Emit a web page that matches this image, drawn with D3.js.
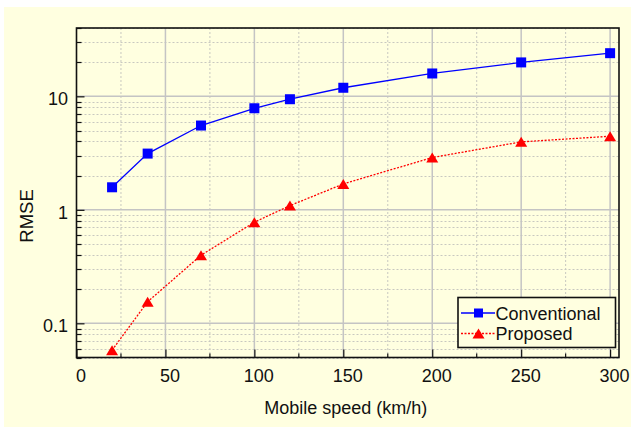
<!DOCTYPE html>
<html>
<head>
<meta charset="utf-8">
<script src="https://cdn.jsdelivr.net/npm/d3@7"></script>
<style>
  html, body { margin: 0; padding: 0; background: #ffffff; }
  svg { display: block; }
  text { font-family: "Liberation Sans", Arial, sans-serif; fill: #111; }
</style>
</head>
<body>
<svg id="chart" width="631" height="427"></svg>
<script>
// Mobile speed (km/h) at which each scheme was evaluated
const speeds = [20, 40, 70, 100, 120, 150, 200, 250, 300];
// RMSE for each scheme
const conventional = [1.58, 3.13, 5.53, 7.85, 9.43, 11.9, 15.9, 19.9, 24.0];
const proposed = [0.058, 0.155, 0.398, 0.778, 1.09, 1.69, 2.89, 3.97, 4.45];
const seriesNames = ["Conventional", "Proposed"];
const xTickValues = [0, 50, 100, 150, 200, 250, 300];
const yTickValues = [0.1, 1, 10];

const svg = d3.select("#chart");
const W = 631, H = 427;
const margin = { left: 76.5, top: 28, right: W - 619, bottom: H - 357.5 };
const pw = W - margin.left - margin.right;
const ph = H - margin.top - margin.bottom;

// panel background
svg.append("rect").attr("x", 4).attr("y", 7).attr("width", W - 4).attr("height", H - 7)
  .attr("fill", "#ffffe0");

const x = d3.scaleLinear().domain([0, 305]).range([0, pw]);
const y = d3.scaleLog().domain([0.05, 40]).range([ph, 0]);

const g = svg.append("g").attr("transform", `translate(${margin.left},${margin.top})`);

// minor grid values
const xMinor = d3.range(25, 305, 50);
const yMinor = [];
[0.01, 0.1, 1, 10].forEach(dec => {
  for (let k = 2; k <= 9; k++) {
    const v = dec * k;
    if (v > 0.05 - 1e-9 && v <= 40 + 1e-9) yMinor.push(v);
  }
});

const grid = g.append("g");
grid.selectAll(".xm").data(xMinor).join("line")
  .attr("x1", d => x(d)).attr("x2", d => x(d)).attr("y1", 0).attr("y2", ph)
  .attr("stroke", "#c8c8c0").attr("stroke-width", 1).attr("stroke-dasharray", "2,2");
grid.selectAll(".ym").data(yMinor).join("line")
  .attr("x1", 0).attr("x2", pw).attr("y1", d => Math.round(y(d)) + 0.5).attr("y2", d => Math.round(y(d)) + 0.5)
  .attr("stroke", "#c8c8c0").attr("stroke-width", 1).attr("stroke-dasharray", "2,2");
grid.selectAll(".xM").data(xTickValues.filter(d => d > 0)).join("line")
  .attr("x1", d => x(d)).attr("x2", d => x(d)).attr("y1", 0).attr("y2", ph)
  .attr("stroke", "#c4c4c4").attr("stroke-width", 1.5);
grid.selectAll(".yM").data(yTickValues).join("line")
  .attr("x1", 0).attr("x2", pw).attr("y1", d => y(d)).attr("y2", d => y(d))
  .attr("stroke", "#c4c4c4").attr("stroke-width", 1.5);

// axes: ticks point into the plot
const xAxis = g.append("g").attr("transform", `translate(0,${ph})`)
  .call(d3.axisBottom(x).tickValues(xTickValues).tickSize(-8).tickPadding(12).tickFormat(d3.format("d")));
xAxis.append("g").selectAll("line").data(xMinor).join("line")
  .attr("x1", d => x(d)).attr("x2", d => x(d)).attr("y1", 0).attr("y2", -4)
  .attr("stroke", "#111").attr("stroke-width", 1.2);

const yAxis = g.append("g")
  .call(d3.axisLeft(y).tickValues(yTickValues).tickSize(-8).tickPadding(8.5).tickFormat(d => d < 1 ? d3.format(".1f")(d) : d3.format("d")(d)));
yAxis.append("g").selectAll("line").data(yMinor).join("line")
  .attr("x1", 0).attr("x2", 5).attr("y1", d => Math.round(y(d)) + 0.5).attr("y2", d => Math.round(y(d)) + 0.5)
  .attr("stroke", "#111").attr("stroke-width", 1.2);

[xAxis, yAxis].forEach(a => {
  a.select(".domain").remove();
  a.selectAll(".tick line").attr("stroke", "#111").attr("stroke-width", 1.2);
  a.selectAll(".tick text").attr("font-size", 18).attr("fill", "#111")
    .attr("font-family", "'Liberation Sans', Arial, sans-serif");
});
xAxis.selectAll(".tick text").attr("dx", 4);
yAxis.selectAll(".tick text").attr("dy", "0.46em");

// frame
g.append("rect").attr("x", 0).attr("y", 0).attr("width", pw).attr("height", ph)
  .attr("fill", "none").attr("stroke", "#111").attr("stroke-width", 1.6);

// series
const conv = speeds.map((s, i) => ({ s, v: conventional[i] }));
const prop = speeds.map((s, i) => ({ s, v: proposed[i] }));
const line = d3.line().x(d => x(d.s)).y(d => y(d.v));

g.append("path").datum(conv).attr("d", line).attr("fill", "none")
  .attr("stroke", "#0000ff").attr("stroke-width", 1.3);
g.append("path").datum(prop).attr("d", line).attr("fill", "none")
  .attr("stroke", "#ff0000").attr("stroke-width", 1.3).attr("stroke-dasharray", "2,1.5");

const sq = 10;
g.selectAll(".sq").data(conv).join("rect")
  .attr("x", d => x(d.s) - sq / 2).attr("y", d => y(d.v) - sq / 2)
  .attr("width", sq).attr("height", sq).attr("fill", "#0000ff");
// upward triangle, 12 wide and 10 tall, centred on its box
const tri = "M0,-5L6,5L-6,5Z";
g.selectAll(".tri").data(prop).join("path")
  .attr("d", tri).attr("transform", d => `translate(${x(d.s)},${y(d.v)})`)
  .attr("fill", "#ff0000");

// axis titles
svg.append("text").attr("x", margin.left + pw / 2 - 2).attr("y", 414)
  .attr("text-anchor", "middle").attr("font-size", 18).text("Mobile speed (km/h)");
svg.append("text").attr("transform", "translate(33,216) rotate(-90)")
  .attr("text-anchor", "middle").attr("font-size", 18.5).text("RMSE");

// legend
const lg = svg.append("g").attr("transform", "translate(458,297.5)");
lg.append("rect").attr("width", 157.5).attr("height", 50).attr("fill", "#ffffe0")
  .attr("stroke", "#111").attr("stroke-width", 1.6);
const entries = [
  { name: seriesNames[0], color: "#0000ff", dash: null, y: 15.5, shape: "sq" },
  { name: seriesNames[1], color: "#ff0000", dash: "2,1.5", y: 36, shape: "tri" }
];
entries.forEach(e => {
  lg.append("line").attr("x1", 3).attr("x2", 37).attr("y1", e.y).attr("y2", e.y)
    .attr("stroke", e.color).attr("stroke-width", 1.3).attr("stroke-dasharray", e.dash);
  if (e.shape === "sq") {
    lg.append("rect").attr("x", 20.5 - 4.5).attr("y", e.y - 4.5).attr("width", 9).attr("height", 9).attr("fill", e.color);
  } else {
    lg.append("path").attr("d", tri).attr("transform", `translate(20.5,${e.y})`).attr("fill", e.color);
  }
  lg.append("text").attr("x", 37.5).attr("y", e.y + 6.5).attr("font-size", 18).text(e.name);
});
</script>
</body>
</html>
